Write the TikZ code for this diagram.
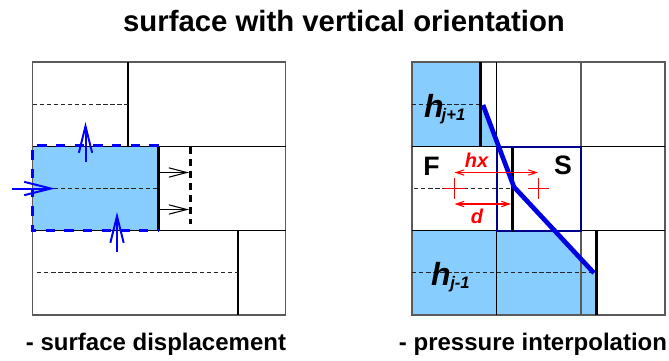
\documentclass[tikz,border=0pt]{standalone}
\usepackage{fontspec}
\setmainfont{Liberation Sans}
\usetikzlibrary{arrows.meta}
\definecolor{sky}{RGB}{135,206,255}
\definecolor{frameg}{RGB}{90,90,90}
\definecolor{navy2}{RGB}{0,0,140}
\tikzset{
  x=0.75pt,y=-0.75pt,
  frame/.style={draw=frameg,line width=1.1pt},
  thin/.style={draw=black,line width=1pt},
  wall/.style={draw=black,line width=2.3pt},
  wallthick/.style={draw=black,line width=2.8pt},
  mid/.style={draw=black!85,line width=0.7pt,dash pattern=on 3.3pt off 2pt},
  bluedash/.style={draw=blue,line width=2.6pt,dash pattern=on 7pt off 7pt},
  blackdash/.style={draw=black,line width=2.3pt,dash pattern=on 5.5pt off 3.5pt},
  blk/.style={draw=black,line width=0.8pt,-{Straight Barb[length=13.5pt,width=7pt,line width=0.8pt]}},
  bluear/.style={draw=blue,line width=1.5pt,-{Straight Barb[length=20pt,width=10pt,line width=1.5pt]}},
  red1/.style={draw=red,line width=1.1pt},
  dim/.style={draw=red,line width=0.8pt,{Straight Barb[length=6pt,width=4pt,line width=0.8pt]}-{Straight Barb[length=6pt,width=4pt,line width=0.8pt]}},
  title/.style={font=\bfseries\fontsize{22}{26}\selectfont,inner sep=0pt},
  cap1/.style={font=\bfseries\fontsize{18}{22}\selectfont,inner sep=0pt},
  big/.style={font=\bfseries\fontsize{20}{24}\selectfont,inner sep=0pt},
  redlab/.style={font=\bfseries\itshape\fontsize{15}{17}\selectfont,text=red,inner sep=0pt},
  hlab/.style={font=\bfseries\itshape\fontsize{24}{28}\selectfont,inner sep=0pt},
  sublab/.style={font=\bfseries\itshape\fontsize{12.5}{15}\selectfont,inner sep=0pt},
}
\begin{document}
\begin{tikzpicture}
\useasboundingbox (0,0) rectangle (669,361);
\node[title] (t) at (344,21) {surface with vertical orientation};
\node[cap1] (c1) at (156,344.5) {- surface displacement};
\node[cap1] (c2) at (533,344.5) {- pressure interpolation};
% left panel
\fill[sky] (32.5,146.5) rectangle (158.5,230.5);
\draw[frame] (32.5,62) rectangle (285.5,315);
\draw[thin] (32.5,146.5) -- (285.5,146.5);
\draw[thin] (32.5,230.5) -- (285.5,230.5);
\draw[thin,line width=1.5pt] (128,62) -- (128,146.5);
\draw[thin,line width=1.6pt] (238,230.5) -- (238,315);
\draw[mid] (32.5,104.5) -- (127.5,104.5);
\draw[mid] (32.5,188.5) -- (158.5,188.5);
\draw[mid] (37,272.5) -- (238,272.5);
\draw[wallthick] (158.5,146.5) -- (158.5,230.5);
\draw[blackdash] (190.5,146.5) -- (190.5,224);
\coordinate (a1) at (160,172.5); \coordinate (a2) at (189,172.5);
\coordinate (b1) at (160,209.5); \coordinate (b2) at (189,209.5);
\draw[blk] (a1) -- (a2);
\draw[blk] (b1) -- (b2);
\draw[bluedash] (158.5,145.5) -- (32.5,145.5) -- (32.5,230.5) -- (158.5,230.5);
\coordinate (u1) at (85.5,162); \coordinate (u2) at (85.5,122);
\coordinate (v1) at (117,252); \coordinate (v2) at (117,212);
\coordinate (w1) at (12,188.5); \coordinate (w2) at (55,188.5);
\draw[bluear] (u1) -- (u2);
\draw[bluear] (v1) -- (v2);
\draw[bluear] (w1) -- (w2);
% right panel
\fill[sky] (412,62) rectangle (480.5,146.5);
\fill[sky] (480.5,106) -- (497,146.5) -- (480.5,146.5) -- cycle;
\fill[sky] (412,230.5) rectangle (552,315);
\fill[sky] (552,230.5) -- (595,273) -- (595,315) -- (552,315) -- cycle;
\draw[frame] (412,62) rectangle (665,315);
\draw[thin] (412,146.5) -- (665,146.5);
\draw[thin] (412,230.5) -- (665,230.5);
\draw[thin] (496.5,62) -- (496.5,315);
\draw[draw=frameg,line width=1.1pt] (581,62) -- (581,315);
\draw[mid] (412,104.5) -- (482,104.5);
\draw[mid] (414,188.5) -- (514,188.5);
\draw[mid] (412,272.5) -- (594,272.5);
\draw[draw=navy2,line width=1.5pt] (496.5,146.5) rectangle (581,230.5);
\draw[wall] (480.5,62) -- (480.5,146.5);
\draw[wall] (512.5,148) -- (512.5,232);
\draw[wall] (596.5,230.5) -- (596.5,315);
\coordinate (p1) at (483,105); \coordinate (p2) at (514,187); \coordinate (p3) at (594,273);
\draw[draw=blue!90!black,line width=3.5pt,line join=round] (p1) -- (p2) -- (p3);
\draw[red1] (444,188.5) -- (465,188.5);
\draw[red1] (454.5,178) -- (454.5,199);
\draw[red1] (528,188.5) -- (549,188.5);
\draw[red1] (538.5,178) -- (538.5,199);
\coordinate (d1) at (454.5,172.5); \coordinate (d2) at (538,172.5);
\coordinate (e1) at (454.5,204); \coordinate (e2) at (511,204);
\draw[dim] (d1) -- (d2);
\draw[dim] (e1) -- (e2);
\node[redlab] (hx) at (476.5,160.5) {hx};
\node[redlab] (d) at (477,216) {d};
\node[big] (F) at (431.5,166) {F};
\node[big] (S) at (563,165) {S};
\node[hlab] (h1) at (434,106) {h};
\node[sublab] (h1s) at (453.5,116) {j+1};
\node[hlab] (h2) at (441,274) {h};
\node[sublab] (h2s) at (460,284) {j-1};
\end{tikzpicture}
\end{document}
